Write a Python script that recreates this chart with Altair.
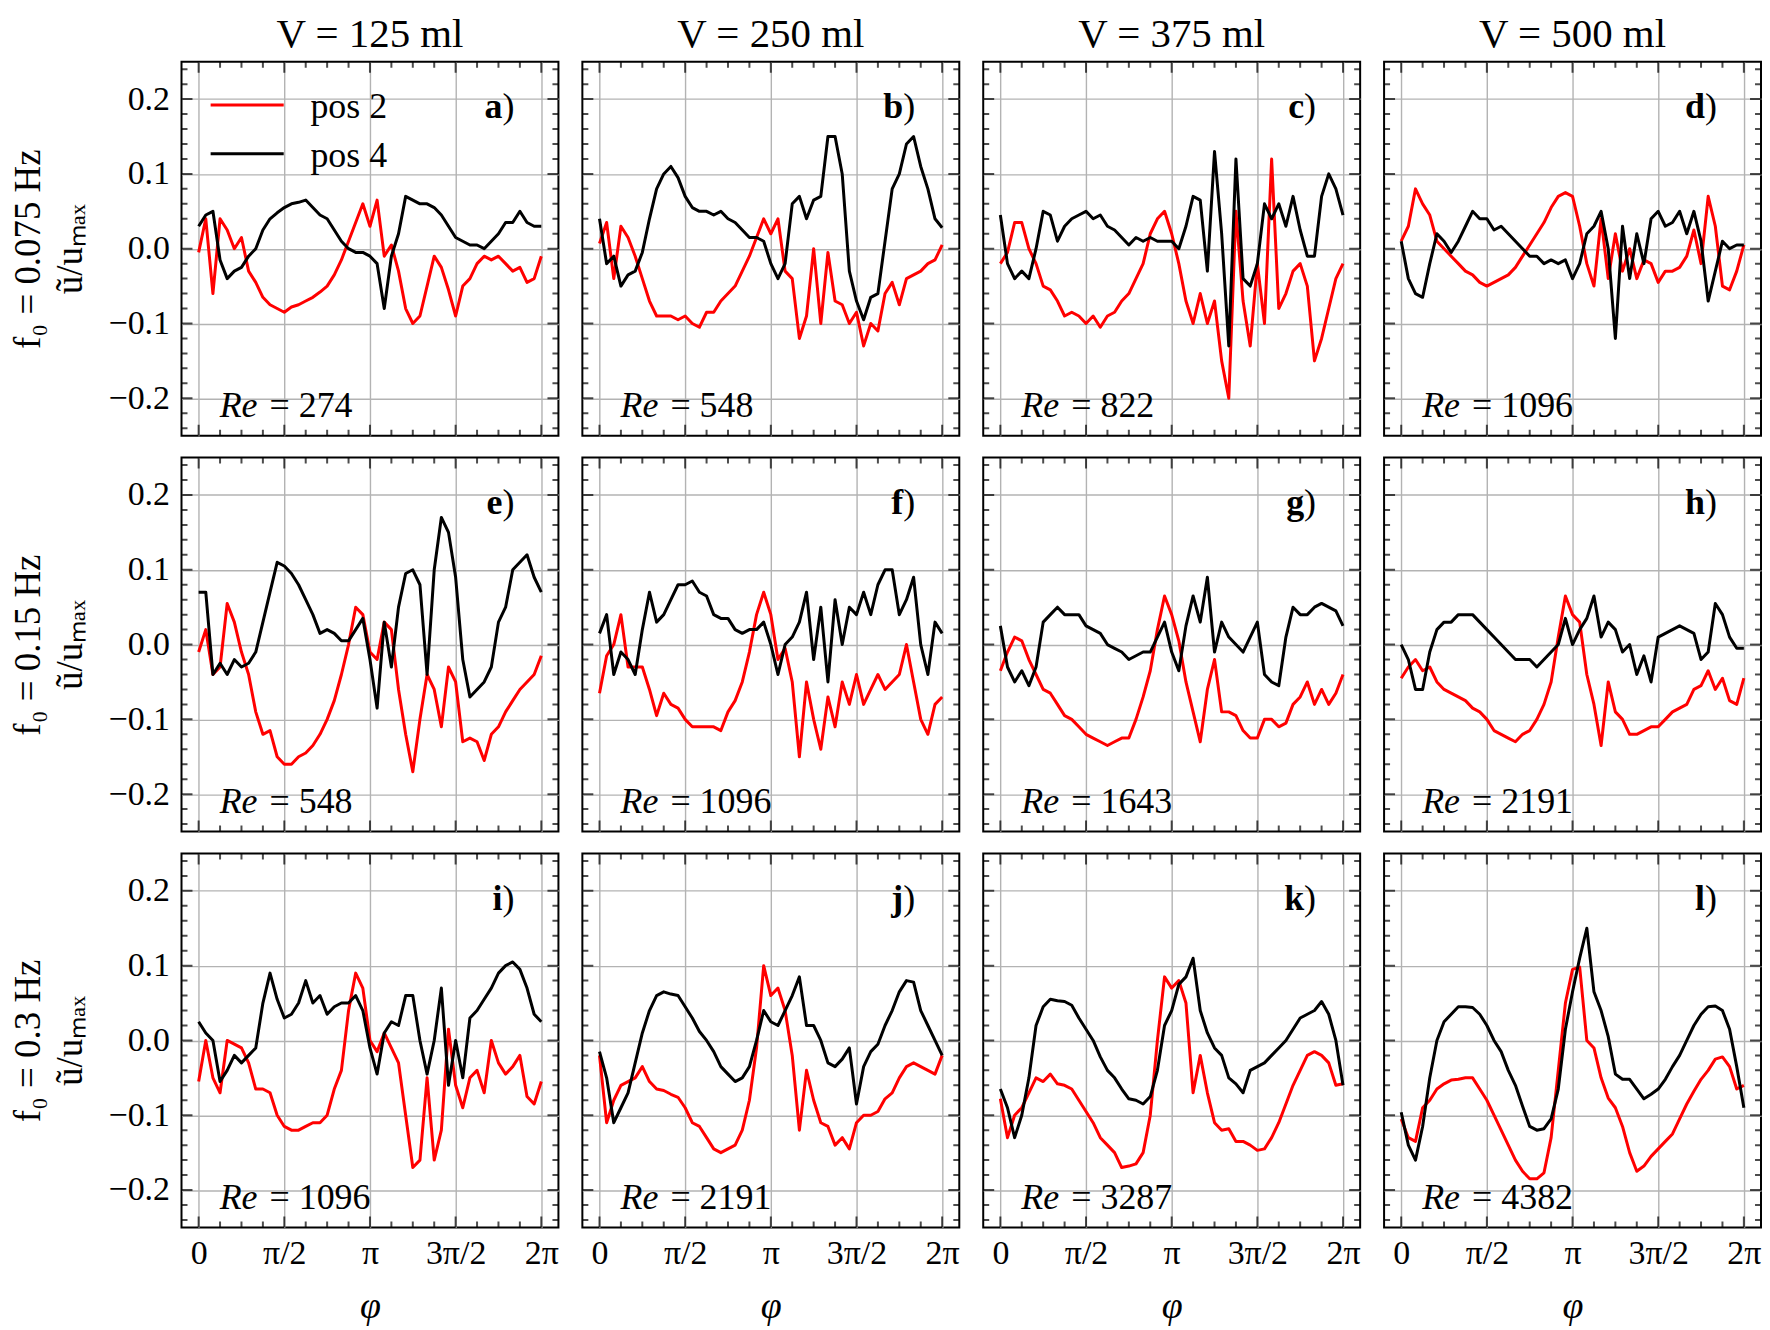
import numpy as np
import pandas as pd
import altair as alt

FONT = "Liberation Serif"

# ---------------- data ----------------
N_PTS = 49
phi = np.linspace(0.0, 2.0 * np.pi, N_PTS)

volumes = ["125", "250", "375", "500"]
freqs = ["0.075", "0.15", "0.3"]
letters = list("abcdefghijkl")
reynolds = ["274", "548", "822", "1096",
            "548", "1096", "1643", "2191",
            "1096", "2191", "3287", "4382"]
x_tick_labels = ["0", "π/2", "π", "3π/2", "2π"]
y_tick_values = [-0.2, -0.1, 0.0, 0.1, 0.2]
series_names = ["pos 2", "pos 4"]

a_pos2 = [-0.005, 0.04, -0.06, 0.04, 0.025, 0.0, 0.015, -0.03, -0.045, -0.065, -0.075, -0.08, -0.085,
          -0.078, -0.075, -0.07, -0.065, -0.058, -0.05, -0.035, -0.015, 0.01, 0.035, 0.06, 0.03, 0.065,
          -0.01, 0.005, -0.03, -0.08, -0.1, -0.09, -0.05, -0.01, -0.025, -0.055, -0.09, -0.05, -0.04,
          -0.02, -0.01, -0.015, -0.01, -0.02, -0.03, -0.025, -0.045, -0.04, -0.01]
a_pos4 = [0.03, 0.045, 0.05, -0.015, -0.04, -0.03, -0.025, -0.01, 0.0, 0.025, 0.04, 0.048, 0.055,
          0.06, 0.062, 0.065, 0.055, 0.045, 0.04, 0.025, 0.01, 0.0, -0.005, -0.005, -0.01, -0.02,
          -0.08, -0.01, 0.02, 0.07, 0.065, 0.06, 0.06, 0.055, 0.045, 0.03, 0.015, 0.01, 0.005,
          0.005, 0.0, 0.01, 0.02, 0.035, 0.035, 0.05, 0.035, 0.03, 0.03]
b_pos2 = [0.007, 0.035, -0.04, 0.03, 0.015, -0.01, -0.04, -0.07, -0.09, -0.09, -0.09, -0.095, -0.09,
          -0.1, -0.105, -0.085, -0.085, -0.07, -0.06, -0.05, -0.03, -0.01, 0.015, 0.04, 0.02, 0.04,
          -0.03, -0.04, -0.12, -0.09, 0.0, -0.1, -0.005, -0.07, -0.075, -0.1, -0.085, -0.13, -0.1,
          -0.11, -0.06, -0.045, -0.075, -0.04, -0.035, -0.03, -0.02, -0.015, 0.005]
b_pos4 = [0.04, -0.02, -0.01, -0.05, -0.035, -0.03, -0.005, 0.04, 0.08, 0.1, 0.11, 0.095, 0.07,
          0.055, 0.05, 0.05, 0.045, 0.05, 0.04, 0.035, 0.025, 0.015, 0.015, 0.01, -0.02, -0.04,
          -0.02, 0.06, 0.07, 0.04, 0.065, 0.07, 0.15, 0.15, 0.1, -0.03, -0.07, -0.095, -0.065,
          -0.06, 0.01, 0.08, 0.1, 0.14, 0.15, 0.11, 0.08, 0.04, 0.028]
c_pos2 = [-0.02, -0.005, 0.035, 0.035, 0.0, -0.02, -0.05, -0.055, -0.07, -0.09, -0.085, -0.09, -0.1,
          -0.09, -0.105, -0.09, -0.085, -0.07, -0.06, -0.04, -0.02, 0.02, 0.04, 0.05, 0.02, -0.02,
          -0.07, -0.1, -0.06, -0.1, -0.07, -0.15, -0.2, 0.05, -0.07, -0.13, -0.02, -0.1, 0.12,
          -0.08, -0.06, -0.03, -0.02, -0.05, -0.15, -0.12, -0.08, -0.04, -0.02]
c_pos4 = [0.045, -0.02, -0.04, -0.03, -0.04, 0.0, 0.05, 0.045, 0.01, 0.03, 0.04, 0.045, 0.05,
          0.04, 0.045, 0.03, 0.025, 0.015, 0.005, 0.015, 0.01, 0.015, 0.01, 0.01, 0.01, 0.0,
          0.03, 0.07, 0.065, -0.03, 0.13, 0.02, -0.13, 0.12, -0.04, -0.05, -0.02, 0.06, 0.04,
          0.06, 0.03, 0.07, 0.025, -0.01, -0.01, 0.07, 0.1, 0.08, 0.045]
d_pos2 = [0.01, 0.03, 0.08, 0.06, 0.045, 0.01, 0.0, -0.01, -0.02, -0.03, -0.035, -0.045, -0.05,
          -0.045, -0.04, -0.035, -0.025, -0.01, 0.005, 0.02, 0.035, 0.055, 0.07, 0.075, 0.07, 0.03,
          -0.02, -0.05, 0.04, -0.04, 0.02, -0.03, 0.0, -0.04, -0.015, -0.02, -0.045, -0.03, -0.03,
          -0.025, -0.01, 0.025, -0.02, 0.07, 0.03, -0.05, -0.055, -0.03, 0.005]
d_pos4 = [0.01, -0.04, -0.06, -0.065, -0.02, 0.02, 0.01, -0.005, 0.01, 0.03, 0.05, 0.04, 0.04,
          0.025, 0.03, 0.02, 0.01, 0.0, -0.01, -0.01, -0.02, -0.015, -0.02, -0.015, -0.04, -0.02,
          0.02, 0.03, 0.05, 0.0, -0.12, 0.03, -0.04, 0.02, -0.02, 0.04, 0.05, 0.03, 0.035,
          0.05, 0.02, 0.05, 0.01, -0.07, -0.03, 0.01, 0.0, 0.005, 0.005]
e_pos2 = [-0.01, 0.02, -0.04, -0.03, 0.055, 0.03, -0.01, -0.04, -0.09, -0.12, -0.115, -0.15, -0.16,
          -0.16, -0.15, -0.145, -0.135, -0.12, -0.1, -0.075, -0.04, 0.0, 0.05, 0.04, -0.01, -0.02,
          0.03, 0.02, -0.06, -0.12, -0.17, -0.1, -0.04, -0.06, -0.11, -0.03, -0.05, -0.13, -0.125,
          -0.13, -0.155, -0.12, -0.11, -0.09, -0.075, -0.06, -0.05, -0.04, -0.015]
e_pos4 = [0.07, 0.07, -0.04, -0.025, -0.04, -0.02, -0.03, -0.025, -0.01, 0.03, 0.07, 0.11, 0.105,
          0.095, 0.08, 0.06, 0.04, 0.015, 0.02, 0.015, 0.005, 0.005, 0.02, 0.035, -0.02, -0.085,
          0.03, -0.03, 0.05, 0.095, 0.1, 0.08, -0.04, 0.1, 0.17, 0.15, 0.09, -0.02, -0.07,
          -0.06, -0.05, -0.03, 0.03, 0.05, 0.1, 0.11, 0.12, 0.09, 0.07]
f_pos2 = [-0.065, -0.015, 0.0, 0.04, -0.03, -0.03, -0.03, -0.06, -0.095, -0.065, -0.08, -0.085, -0.1,
          -0.11, -0.11, -0.11, -0.11, -0.115, -0.09, -0.075, -0.05, -0.01, 0.04, 0.07, 0.04, -0.02,
          -0.005, -0.05, -0.15, -0.05, -0.1, -0.14, -0.07, -0.11, -0.05, -0.08, -0.04, -0.08, -0.06,
          -0.04, -0.06, -0.05, -0.04, 0.0, -0.05, -0.1, -0.12, -0.08, -0.07]
f_pos4 = [0.015, 0.04, -0.04, -0.01, -0.02, -0.04, 0.02, 0.07, 0.03, 0.04, 0.06, 0.08, 0.08,
          0.085, 0.07, 0.065, 0.04, 0.035, 0.035, 0.02, 0.015, 0.02, 0.02, 0.03, 0.0, -0.04,
          0.0, 0.01, 0.03, 0.07, -0.02, 0.05, -0.05, 0.06, 0.0, 0.05, 0.04, 0.07, 0.04,
          0.08, 0.1, 0.1, 0.04, 0.06, 0.09, 0.0, -0.04, 0.03, 0.015]
g_pos2 = [-0.035, -0.01, 0.01, 0.005, -0.02, -0.04, -0.06, -0.065, -0.08, -0.095, -0.1, -0.11, -0.12,
          -0.125, -0.13, -0.135, -0.13, -0.125, -0.125, -0.1, -0.07, -0.035, 0.02, 0.065, 0.04, 0.005,
          -0.05, -0.09, -0.13, -0.06, -0.02, -0.09, -0.09, -0.095, -0.115, -0.125, -0.125, -0.1, -0.1,
          -0.11, -0.105, -0.08, -0.07, -0.05, -0.08, -0.06, -0.08, -0.065, -0.04]
g_pos4 = [0.025, -0.03, -0.05, -0.035, -0.055, -0.03, 0.03, 0.04, 0.05, 0.04, 0.04, 0.04, 0.025,
          0.02, 0.015, 0.0, -0.005, -0.01, -0.02, -0.015, -0.01, -0.01, 0.01, 0.03, -0.01, -0.035,
          0.025, 0.065, 0.03, 0.09, -0.01, 0.03, 0.01, 0.0, -0.01, 0.01, 0.03, -0.04, -0.05,
          -0.055, 0.01, 0.05, 0.04, 0.04, 0.05, 0.055, 0.05, 0.045, 0.025]
h_pos2 = [-0.045, -0.03, -0.02, -0.035, -0.03, -0.05, -0.06, -0.065, -0.07, -0.075, -0.085, -0.09, -0.1,
          -0.115, -0.12, -0.125, -0.13, -0.12, -0.115, -0.1, -0.08, -0.05, 0.01, 0.065, 0.04, 0.03,
          -0.04, -0.08, -0.135, -0.05, -0.09, -0.1, -0.12, -0.12, -0.115, -0.11, -0.11, -0.1, -0.09,
          -0.085, -0.08, -0.06, -0.055, -0.035, -0.06, -0.045, -0.075, -0.08, -0.045]
h_pos4 = [0.0, -0.02, -0.06, -0.06, -0.01, 0.02, 0.03, 0.03, 0.04, 0.04, 0.04, 0.03, 0.02,
          0.01, 0.0, -0.01, -0.02, -0.02, -0.02, -0.03, -0.02, -0.01, 0.0, 0.035, 0.0, 0.02,
          0.035, 0.065, 0.01, 0.03, 0.02, -0.01, 0.0, -0.04, -0.015, -0.05, 0.01, 0.015, 0.02,
          0.025, 0.02, 0.015, -0.02, -0.01, 0.055, 0.04, 0.01, -0.005, -0.005]
i_pos2 = [-0.055, 0.0, -0.05, -0.07, 0.0, -0.005, -0.01, -0.03, -0.065, -0.065, -0.07, -0.1, -0.115,
          -0.12, -0.12, -0.115, -0.11, -0.11, -0.1, -0.065, -0.04, 0.04, 0.09, 0.07, 0.0, -0.015,
          0.01, -0.01, -0.03, -0.1, -0.17, -0.16, -0.05, -0.16, -0.12, 0.015, -0.06, -0.09, -0.05,
          -0.04, -0.07, 0.0, -0.03, -0.045, -0.035, -0.02, -0.075, -0.085, -0.055]
i_pos4 = [0.025, 0.01, 0.0, -0.055, -0.04, -0.02, -0.03, -0.02, -0.01, 0.05, 0.09, 0.055, 0.03,
          0.035, 0.05, 0.08, 0.05, 0.06, 0.035, 0.045, 0.05, 0.05, 0.06, 0.04, -0.01, -0.045,
          0.01, 0.025, 0.02, 0.06, 0.06, 0.0, -0.045, 0.0, 0.07, -0.06, 0.0, -0.05, 0.03,
          0.04, 0.055, 0.07, 0.09, 0.1, 0.105, 0.095, 0.07, 0.035, 0.025]
j_pos2 = [-0.02, -0.11, -0.08, -0.06, -0.055, -0.05, -0.035, -0.055, -0.065, -0.067, -0.072, -0.076, -0.09,
          -0.11, -0.115, -0.13, -0.145, -0.15, -0.145, -0.14, -0.12, -0.08, -0.01, 0.1, 0.06, 0.07,
          0.04, -0.02, -0.12, -0.04, -0.08, -0.11, -0.115, -0.14, -0.13, -0.145, -0.11, -0.1, -0.1,
          -0.095, -0.078, -0.07, -0.05, -0.035, -0.03, -0.035, -0.04, -0.045, -0.02]
j_pos4 = [-0.015, -0.05, -0.11, -0.09, -0.07, -0.03, 0.01, 0.04, 0.06, 0.065, 0.062, 0.06, 0.045,
          0.03, 0.012, 0.0, -0.015, -0.035, -0.045, -0.055, -0.05, -0.035, 0.0, 0.04, 0.025, 0.02,
          0.04, 0.06, 0.085, 0.02, 0.02, 0.0, -0.03, -0.035, -0.025, -0.01, -0.085, -0.035, -0.015,
          -0.005, 0.02, 0.04, 0.065, 0.08, 0.078, 0.04, 0.02, 0.0, -0.02]
k_pos2 = [-0.078, -0.13, -0.1, -0.09, -0.07, -0.05, -0.055, -0.045, -0.058, -0.06, -0.065, -0.08, -0.095,
          -0.11, -0.13, -0.14, -0.15, -0.17, -0.168, -0.165, -0.15, -0.1, 0.0, 0.085, 0.07, 0.08,
          0.05, -0.07, -0.02, -0.07, -0.11, -0.12, -0.118, -0.135, -0.135, -0.14, -0.147, -0.145, -0.13,
          -0.11, -0.085, -0.06, -0.04, -0.02, -0.015, -0.02, -0.03, -0.06, -0.058]
k_pos4 = [-0.065, -0.09, -0.13, -0.1, -0.05, 0.02, 0.045, 0.055, 0.053, 0.052, 0.047, 0.03, 0.015,
          0.0, -0.022, -0.04, -0.05, -0.065, -0.078, -0.08, -0.085, -0.075, -0.04, 0.02, 0.04, 0.075,
          0.085, 0.11, 0.04, 0.01, -0.01, -0.02, -0.05, -0.058, -0.07, -0.04, -0.035, -0.03, -0.02,
          -0.01, 0.0, 0.015, 0.03, 0.035, 0.04, 0.052, 0.035, 0.0, -0.06]
l_pos2 = [-0.105, -0.13, -0.135, -0.09, -0.08, -0.065, -0.058, -0.053, -0.052, -0.05, -0.05, -0.065, -0.08,
          -0.1, -0.12, -0.14, -0.16, -0.175, -0.185, -0.185, -0.177, -0.13, -0.04, 0.05, 0.095, 0.098,
          0.0, -0.01, -0.05, -0.077, -0.09, -0.115, -0.15, -0.175, -0.168, -0.155, -0.145, -0.135, -0.125,
          -0.105, -0.085, -0.068, -0.052, -0.04, -0.025, -0.022, -0.035, -0.065, -0.06]
l_pos4 = [-0.096, -0.14, -0.16, -0.115, -0.05, 0.0, 0.025, 0.035, 0.045, 0.045, 0.044, 0.035, 0.02,
          0.0, -0.015, -0.04, -0.06, -0.088, -0.115, -0.12, -0.118, -0.105, -0.065, 0.015, 0.065, 0.11,
          0.15, 0.065, 0.04, 0.005, -0.045, -0.052, -0.052, -0.065, -0.078, -0.072, -0.065, -0.052, -0.035,
          -0.02, 0.0, 0.02, 0.035, 0.045, 0.046, 0.04, 0.015, -0.035, -0.09]

panel_series = {
    "a": (a_pos2, a_pos4), "b": (b_pos2, b_pos4), "c": (c_pos2, c_pos4), "d": (d_pos2, d_pos4),
    "e": (e_pos2, e_pos4), "f": (f_pos2, f_pos4), "g": (g_pos2, g_pos4), "h": (h_pos2, h_pos4),
    "i": (i_pos2, i_pos4), "j": (j_pos2, j_pos4), "k": (k_pos2, k_pos4), "l": (l_pos2, l_pos4),
}

# ---------------- layout / style constants ----------------
X_MIN, X_MAX = -0.05 * 2 * np.pi, 2 * np.pi * 1.05
Y_MIN, Y_MAX = -0.25, 0.25
PANEL_W, PANEL_H = 378, 375
RED, BLACK = "#ff0000", "#000000"
LINE_W = 3.0
TICK_FS = 34
TEXT_FS = 36

LETTER_X, LETTER_Y = 5.57, 0.175
RE_X, RE_EQ_X, RE_Y = 0.385, 1.30, -0.225
LEG_X0, LEG_X1, LEG_TX = 0.22, 1.56, 2.05
LEG_LINE_Y = [0.192, 0.127]
LEG_TEXT_Y = [0.175, 0.109]

x_major = [k * np.pi / 2 for k in range(5)]
x_minor = [k * np.pi / 8 for k in range(17) if k % 4 != 0]
y_major = y_tick_values
y_minor = [round(v / 100, 2) for v in range(-24, 25, 2) if v % 10 != 0]

MAJ_LEN, MIN_LEN = 22, 12

v_ticks = pd.DataFrame(
    [{"phi": x, "u": yy, "len": MAJ_LEN} for x in x_major for yy in (Y_MIN, Y_MAX)]
    + [{"phi": x, "u": yy, "len": MIN_LEN} for x in x_minor for yy in (Y_MIN, Y_MAX)]
)
h_ticks = pd.DataFrame(
    [{"phi": xx, "u": y, "len": MAJ_LEN} for y in y_major for xx in (X_MIN, X_MAX)]
    + [{"phi": xx, "u": y, "len": MIN_LEN} for y in y_minor for xx in (X_MIN, X_MAX)]
)

x_label_expr = " : ".join(
    f"datum.value < {x_major[k] + 0.3:.3f} ? '{x_tick_labels[k]}'" for k in range(4)
) + f" : '{x_tick_labels[4]}'"


def text_layer(x, y, s, **kw):
    props = dict(font=FONT, fontSize=TEXT_FS, baseline="alphabetic", color="black")
    props.update(kw)
    return alt.Chart(pd.DataFrame({"t": [s]})).mark_text(**props).encode(
        x=alt.datum(x), y=alt.datum(y), text="t:N"
    )


def make_panel(r, c):
    idx = r * 4 + c
    key = letters[idx]
    pos2, pos4 = panel_series[key]
    df = pd.DataFrame({
        "phi": np.concatenate([phi, phi]),
        "u": list(pos2) + list(pos4),
        "series": [series_names[0]] * N_PTS + [series_names[1]] * N_PTS,
    })
    bottom = r == 2
    left = c == 0
    xaxis_kw = dict(values=x_major, grid=True, ticks=False, domain=False)
    if bottom:
        xaxis_kw.update(labels=True, labelExpr=x_label_expr, labelPadding=9,
                        title="φ", titleFontStyle="italic", titleFontSize=38, titlePadding=17)
    else:
        xaxis_kw.update(labels=False, title=None)
    yaxis_kw = dict(values=y_major, grid=True, ticks=False, domain=False)
    if left:
        yaxis_kw.update(labels=True, format=".1f", labelPadding=12,
                        title=[f"f₀ = {freqs[r]} Hz", "ũ/uₘₐₓ"], titleLineHeight=42,
                        titlePadding=19, titleFontSize=37)
    else:
        yaxis_kw.update(labels=False, title=None)

    xs = alt.Scale(domain=[X_MIN, X_MAX], nice=False, zero=False)
    ys = alt.Scale(domain=[Y_MIN, Y_MAX], nice=False, zero=False)
    base = alt.Chart(df).encode(
        x=alt.X("phi:Q", scale=xs, axis=alt.Axis(**xaxis_kw)),
        y=alt.Y("u:Q", scale=ys, axis=alt.Axis(**yaxis_kw)),
    )
    red = base.transform_filter(alt.datum.series == series_names[0]).mark_line(
        color=RED, strokeWidth=LINE_W, clip=True, strokeJoin="round")
    blk = base.transform_filter(alt.datum.series == series_names[1]).mark_line(
        color=BLACK, strokeWidth=LINE_W, clip=True, strokeJoin="round")

    vt = alt.Chart(v_ticks).mark_tick(orient="vertical", thickness=2, color="black", clip=True).encode(
        x="phi:Q", y="u:Q", size=alt.Size("len:Q", scale=None))
    ht = alt.Chart(h_ticks).mark_tick(orient="horizontal", thickness=2, color="black", clip=True).encode(
        x="phi:Q", y="u:Q", size=alt.Size("len:Q", scale=None))

    layers = [red, blk, vt, ht,
              text_layer(LETTER_X, LETTER_Y, key, align="right", fontWeight="bold"),
              text_layer(LETTER_X, LETTER_Y, ")", align="left"),
              text_layer(RE_X, RE_Y, "Re", align="left", fontStyle="italic"),
              text_layer(RE_EQ_X, RE_Y, f"= {reynolds[idx]}", align="left")]

    if idx == 0:
        for s_i, colr in enumerate([RED, BLACK]):
            layers.append(
                alt.Chart(pd.DataFrame({"s": [series_names[s_i]]})).mark_rule(
                    color=colr, strokeWidth=LINE_W).encode(
                    x=alt.datum(LEG_X0), x2=alt.datum(LEG_X1), y=alt.datum(LEG_LINE_Y[s_i]))
            )
            layers.append(text_layer(LEG_TX, LEG_TEXT_Y[s_i], series_names[s_i], align="left"))

    ch = alt.layer(*layers).properties(width=PANEL_W, height=PANEL_H)
    if r == 0:
        ch = ch.properties(title=alt.TitleParams(f"V = {volumes[c]} ml", anchor="middle",
                                                 fontSize=41, offset=3, dy=-3))
    return ch


rows = [alt.hconcat(*[make_panel(r, c) for c in range(4)], spacing=22) for r in range(3)]
chart = alt.vconcat(*rows, spacing=20).properties(
    padding={"left": 0, "top": 3, "right": 0, "bottom": 0}
).configure_axis(
    labelFont=FONT, titleFont=FONT, labelFontSize=TICK_FS, labelColor="black",
    titleColor="black", titleFontWeight="normal", gridColor="#b3b3b3", gridWidth=1.4,
    gridOpacity=1,
).configure_view(
    stroke="black", strokeWidth=2
).configure_title(
    font=FONT, fontWeight="normal", color="black"
).configure_concat(spacing=20)

chart.save("out.html", embed_options={"renderer": "svg", "actions": False})
